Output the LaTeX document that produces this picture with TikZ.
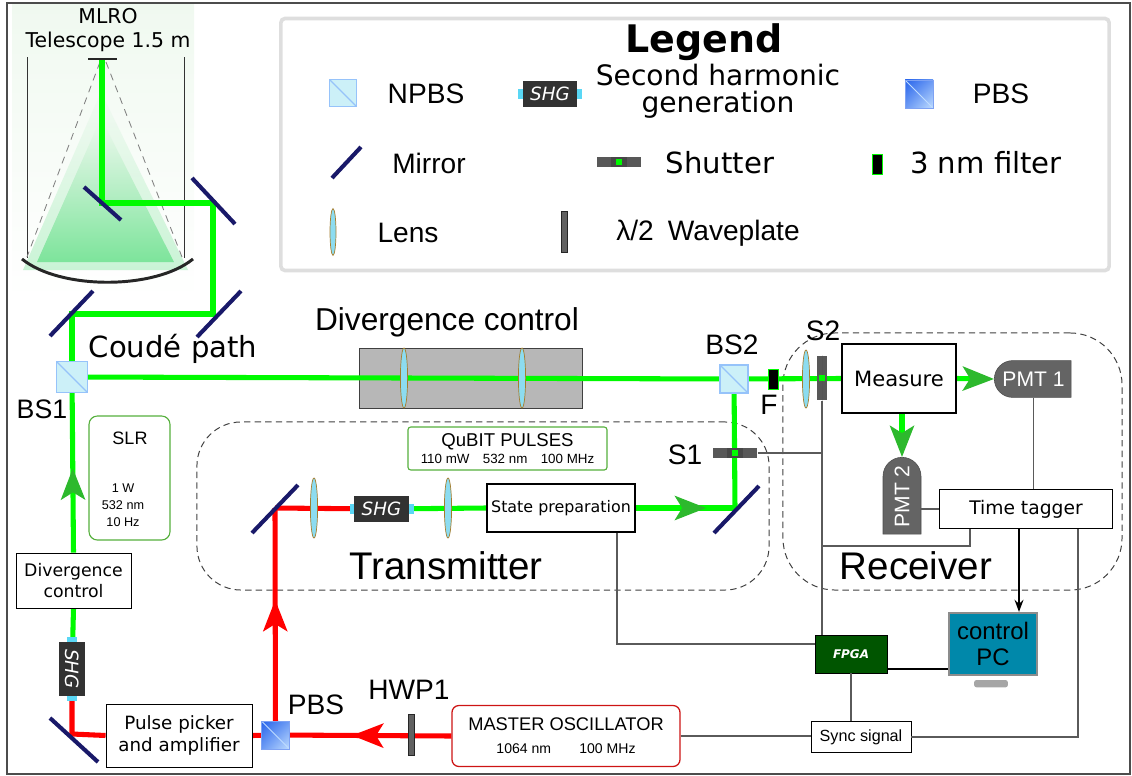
\documentclass[tikz,border=0pt]{standalone}
\usepackage{fontspec}
\setmainfont{Liberation Sans}
\newfontfamily\dvs{DejaVu Sans}
\usetikzlibrary{arrows.meta,positioning,shapes.geometric,shapes.misc,shadings,decorations.markings}

\definecolor{laser}{RGB}{0,250,0}
\definecolor{pump}{RGB}{255,0,0}
\definecolor{mirnavy}{RGB}{25,25,105}
\definecolor{npbsfill}{RGB}{204,240,248}
\definecolor{npbsedge}{RGB}{150,195,250}
\definecolor{pbsdark}{RGB}{40,100,235}
\definecolor{pbslight}{RGB}{190,220,255}
\definecolor{shgdark}{RGB}{50,50,50}
\definecolor{earcyan}{RGB}{90,215,245}
\definecolor{shutgray}{RGB}{88,88,88}
\definecolor{lensfill}{RGB}{140,220,240}
\definecolor{lensedge}{RGB}{165,125,45}
\definecolor{divgray}{RGB}{183,183,183}
\definecolor{pmtgray}{RGB}{100,100,100}
\definecolor{fpgagreen}{RGB}{0,85,0}
\definecolor{pcteal}{RGB}{0,136,170}
\definecolor{boxgreen}{RGB}{85,175,60}
\definecolor{oscred}{RGB}{205,20,20}
\definecolor{headgreen}{RGB}{45,185,45}
\definecolor{wiregray}{RGB}{90,90,90}
\definecolor{conegreen}{RGB}{125,228,155}
\definecolor{telbg}{RGB}{240,249,240}

\pgfdeclarelayer{back}
\pgfdeclarelayer{beams}
\pgfsetlayers{back,beams,main}

\newcommand\fsz[1]{\fontsize{#1}{\fpeval{1.18*#1}}\selectfont}

\tikzset{
  beamg/.style={draw=laser, line width=3.6pt},
  beamr/.style={draw=pump, line width=3.6pt},
  mirr/.style={draw=mirnavy, line width=2.9pt},
  tele/.style={draw=black!85, line width=2.1pt},
  wire/.style={draw=wiregray, line width=0.9pt},
  ctl/.style={draw=black, line width=1.5pt},
  gend/.style={-{Stealth[length=0.78cm,width=0.6cm,inset=0.18cm,color=headgreen]}},
  gmid/.style={postaction={decorate, decoration={markings,
      mark=at position #1 with {\arrow{Stealth[length=0.78cm,width=0.6cm,inset=0.18cm,color=headgreen]}}}}},
  rmid/.style={postaction={decorate, decoration={markings,
      mark=at position #1 with {\arrow{Stealth[length=0.78cm,width=0.6cm,inset=0.18cm,color=pump]}}}}},
  tag/.style={inner sep=0, font=\fsz{20}},
  blk/.style={rectangle, draw=black, line width=0.9pt, fill=white, inner sep=1pt, align=center},
  npbs/.style={rectangle, draw=npbsedge, fill=npbsfill, line width=0.8pt, minimum size=0.68cm, inner sep=0,
    path picture={\draw[npbsedge, line width=0.8pt] (path picture bounding box.north west) -- (path picture bounding box.south east);}},
  pbs/.style={rectangle, draw=pbsdark!60, line width=0.6pt, minimum size=0.7cm, inner sep=0,
    upper left=pbsdark, upper right=pbsdark!55!pbslight, lower left=pbsdark!55!pbslight, lower right=pbslight,
    path picture={\draw[pbslight] (path picture bounding box.north west) -- (path picture bounding box.south east);}},
  lens/.style={ellipse, draw=lensedge, fill=lensfill, line width=0.5pt, minimum width=0.18cm, minimum height=1.5cm, inner sep=0},
  shutter/.style={rectangle, fill=shutgray, minimum width=1.12cm, minimum height=0.23cm, inner sep=0,
    path picture={
      \fill[black!72] ([xshift=-0.19cm]path picture bounding box.south) rectangle ([xshift=0.19cm]path picture bounding box.north);
      \fill[laser] ([xshift=-0.075cm,yshift=-0.08cm]path picture bounding box.center) rectangle ([xshift=0.075cm,yshift=0.08cm]path picture bounding box.center);}},
  filt/.style={rectangle, fill=black, draw=laser, line width=0.6pt, minimum width=0.25cm, minimum height=0.5cm, inner sep=0},
  wplate/.style={rectangle, fill=black!62, draw=black!85, line width=0.5pt, minimum width=0.14cm, minimum height=1.02cm, inner sep=0},
  pmt/.style={rounded rectangle, fill=pmtgray, draw=black!70, line width=0.4pt, text=white,
    minimum width=1.92cm, minimum height=0.92cm, inner sep=0, font=\fsz{15}},
  zone/.style={rectangle, draw=black!75, dash pattern=on 4.5pt off 3pt, line width=0.7pt},
  shgblk/.pic={
    \fill[earcyan] (-32,-5) rectangle (32,5);
    \node[fill=shgdark, text=white, minimum width=1.35cm, minimum height=0.65cm, inner sep=0,
          font=\dvs\itshape\fsz{13}, transform shape] (-box) {SHG};
  },
}

\begin{document}
\begin{tikzpicture}[x=0.025cm, y=-0.025cm]
  \useasboundingbox (0,0) rectangle (1132,776);
  \draw[black!70, line width=0.8pt] (7,3) rectangle (1130,774);

  % ---- telescope and coude train
  \begin{pgfonlayer}{back}
    \shade[top color=telbg, bottom color=white] (12,4) rectangle (194,300);
    \shade[top color=telbg, bottom color=conegreen, opacity=0.4] (101,92) -- (188,270) -- (23,270) -- cycle;
    \shade[top color=telbg, bottom color=conegreen] (101,118) -- (174,262) -- (37,262) -- cycle;
    \draw[black!80, line width=0.6pt] (27,57) -- (27,258) (184,57) -- (184,258);
    \draw[black!50, line width=0.6pt, dash pattern=on 5pt off 4pt] (100,62) -- (27,257) (106,62) -- (182,257);
  \end{pgfonlayer}
  \draw[tele] (22,259) .. controls (60,290) and (155,290) .. (193,259);
  \draw[tele] (88,59) -- (117,59);
  \node[font=\dvs\fontsize{14.5}{16.5}\selectfont, align=center, inner sep=0] (mlro) at (108,30) {MLRO\\Telescope 1.5 m};

  \coordinate (sec) at (102,59);
  \coordinate (m1) at (102,203);
  \coordinate (m2) at (213,203);
  \coordinate (m3) at (213,314);
  \coordinate (m4) at (72,314);
  \coordinate (m5) at (72,734);
  \coordinate (m6) at (275,508);
  \coordinate (m7) at (735,508);
  \draw[mirr] (m1) ++(-18,-16) -- ++(37,33);
  \draw[mirr] (m2) ++(-21,-25) -- ++(43,46);
  \draw[mirr] (m3) ++(-16,23) -- ++(44,-46);
  \draw[mirr] (m4) ++(-22,22) -- ++(43,-45);
  \draw[mirr] (m5) ++(-22,-16) -- ++(48,44);
  \draw[mirr] (m6) ++(-23,25) -- ++(46,-48);
  \draw[mirr] (m7) ++(-21,25) -- ++(45,-47);

  % ---- legend
  \node[draw=black!13, line width=2.6pt, rounded corners=3pt, minimum width=20.7cm, minimum height=6.3cm] (legend) at (695,144.5) {};
  \node[font=\dvs\bfseries\fsz{27}, inner sep=0] (legtitle) at (704,42) {Legend};
  \node[npbs] (npbsL) at (343,93) {};
  \node[tag] (npbsT) at (426,94) {NPBS};
  \pic (shgA) at (550,94) {shgblk};
  \node[tag, font=\dvs\fontsize{20}{19}\selectfont, align=center] (shgT) at (718,91) {Second harmonic\\generation};
  \node[pbs] (pbsL) at (919,94) {};
  \node[tag] (pbsT) at (1001,94) {PBS};
  \coordinate (mirL) at (346,162);
  \draw[mirr] (mirL) ++(-14,16) -- ++(29,-31);
  \node[tag] (mirT) at (429,163) {Mirror};
  \node[shutter] (shutL) at (619,162) {};
  \node[tag, font=\dvs\fsz{20.7}] (shutT) at (720,163) {Shutter};
  \node[filt] (filtL) at (877,164) {};
  \node[tag, font=\dvs\fsz{20.7}] (filtT) at (986,163) {3 nm filter};
  \node[lens, minimum height=1.17cm, minimum width=0.15cm] (lensL) at (333,232) {};
  \node[tag] (lensT) at (408,233) {Lens};
  \node[wplate] (wpL) at (564.5,232) {};
  \node[tag] (wpT) at (708,233) {λ/2\enspace Waveplate};

  % ---- launch and return path
  \node[npbs, minimum size=0.78cm] (bs1) at (72,377) {};
  \node[tag, font=\fsz{19}] (bs1T) at (42,409) {BS1};
  \node[tag, font=\dvs\fsz{20.7}] (coude) at (173,349) {Coudé path};
  \begin{pgfonlayer}{back}
    \node[fill=divgray, draw=black!75, line width=0.6pt, minimum width=5.575cm, minimum height=1.5cm] (divC) at (470.5,378) {};
    \node[zone, rounded corners=1.1cm, minimum width=14.3cm, minimum height=4.2cm] (txZone) at (483,506) {};
    \node[zone, rounded corners=1.3cm, minimum width=8.475cm, minimum height=6.425cm] (rxZone) at (952.5,461.5) {};
  \end{pgfonlayer}
  \node[tag, font=\fsz{22.5}] (divCT) at (447,322) {Divergence control};
  \node[lens] (lensA) at (404,378) {};
  \node[lens] (lensB) at (522,378) {};
  \node[npbs, minimum size=0.7cm] (bs2) at (734,379) {};
  \node[tag] (bs2T) at (732,345) {BS2};
  \node[filt] (filtF) at (773,379) {};
  \node[tag] (fT) at (769,405) {F};

  \node[rounded corners=6pt, draw=boxgreen, line width=0.8pt, minimum width=2.025cm, minimum height=3.1cm] (slr) at (129.5,478) {};
  \node[tag, font=\fsz{12.8}] (slrT) at (130,438) {SLR};
  \node[tag, font=\fontsize{9}{12}\selectfont, align=center] (slrD) at (123,505) {1 W\\532 nm\\10 Hz};
  \node[blk, line width=0.6pt, minimum width=2.875cm, minimum height=1.375cm, font=\dvs\fontsize{12.3}{14.5}\selectfont] (divL) at (73.5,580.5) {Divergence\\control};
  \pic[rotate=-90] (shgC) at (72,669) {shgblk};
  \node[blk, line width=0.6pt, minimum width=3.65cm, minimum height=1.575cm, font=\dvs\fontsize{13}{16}\selectfont] (picker) at (179,735.5) {Pulse picker\\and amplifier};
  \node[pbs] (pbs) at (275.5,735) {};
  \node[tag] (pbsT2) at (316,705) {PBS};
  \node[wplate] (hwp) at (411.5,735) {};
  \node[tag] (hwpT) at (409,690) {HWP1};
  \node[draw=oscred, line width=0.9pt, rounded corners=5pt, minimum width=5.7cm, minimum height=1.525cm, align=center, inner sep=0, font=\fsz{13}] (mo) at (566,736) {MASTER OSCILLATOR\\[1pt]{\fsz{10}1064 nm\qquad 100 MHz}};

  % ---- transmitter
  \node[tag, font=\fsz{27.4}] (txT) at (446,566) {Transmitter};
  \node[lens] (lensT1) at (314,508) {};
  \pic (shgB) at (381.5,509) {shgblk};
  \node[lens] (lensT2) at (448,508) {};
  \node[blk, minimum width=3.7cm, minimum height=1.2cm, font=\dvs\fsz{11.3}] (prep) at (561,508) {State preparation};
  \node[shutter] (s1) at (735,453) {};
  \node[tag] (s1T) at (685,455) {S1};
  \node[draw=boxgreen, line width=0.8pt, rounded corners=2pt, minimum width=4.975cm, minimum height=1.075cm, align=center, inner sep=0, font=\fsz{13.2}] (qubit) at (507.5,448.5) {QuBIT PULSES\\[-3pt]{\fsz{9.5}110 mW\quad 532 nm\quad 100 MHz}};

  % ---- receiver
  \node[lens, minimum height=1.45cm] (lensR) at (806,379) {};
  \node[shutter, rotate=90] (s2) at (822,378) {};
  \node[tag] (s2T) at (823,331) {S2};
  \node[blk, minimum width=2.85cm, minimum height=1.725cm, font=\dvs\fsz{15}] (measure) at (899,378.5) {Measure};
  \node[pmt, rounded rectangle right arc=none] (pmt1) at (1033.5,379) {PMT 1};
  \node[pmt, rounded rectangle left arc=none, rotate=90, minimum height=0.95cm] (pmt2) at (902,496.5) {PMT 2};
  \node[blk, line width=0.7pt, minimum width=4.3cm, minimum height=0.975cm, font=\dvs\fsz{13.3}] (tagger) at (1026,509) {Time tagger};
  \node[tag, font=\fsz{27.4}] (rxT) at (916,566) {Receiver};

  % ---- electronics
  \node[fill=fpgagreen, draw=black, line width=0.5pt, minimum width=1.8cm, minimum height=0.95cm, text=white, font=\dvs\bfseries\itshape\fsz{8.5}] (fpga) at (851,654) {FPGA};
  \node[fill=pcteal, draw=black!45, line width=1.5pt, minimum width=2.2cm, minimum height=1.55cm, align=center, inner sep=0, font=\fontsize{17}{18.5}\selectfont] (pc) at (993,644) {control\\PC};
  \fill[black!35, rounded corners=1.5pt] ([xshift=-0.47cm,yshift=-0.1cm]pc.south) rectangle ([xshift=0.37cm,yshift=-0.28cm]pc.south);
  \node[blk, line width=0.6pt, minimum width=2.5cm, minimum height=0.775cm, font=\fsz{11.5}] (sync) at (861,737) {Sync signal};

  % ---- beams
  \begin{pgfonlayer}{beams}
    \draw[beamg] (sec) -- (m1) -- (m2) -- (m3) -- (m4) -- (bs1.center);
    \draw[beamg, gmid=0.48] (divL.north) -- (bs1.center);
    \draw[beamg] (bs1.center) -- (bs2.center) -- (measure.west);
    \draw[beamg] (shgC-box.center) -- (divL.south);
    \draw[beamg] (bs2.center) -- (m7);
    \draw[beamg, gmid=0.71] (prep.east) -- (m7);
    \draw[beamg] (shgB-box.center) -- (prep.west);
    \draw[beamg, gend] (measure.east) -- (pmt1.west);
    \draw[beamg, gend] (measure.south -| pmt2.east) -- (pmt2.east);
    \draw[beamr] (shgC-box.center) -- (m5) -- (picker.west);
    \draw[beamr] (picker.east) -- (pbs.center);
    \draw[beamr, rmid=0.565] (mo.west) -- (pbs.center);
    \draw[beamr, rmid=0.595] (pbs.center) -- (m6);
    \draw[beamr] (m6) -- (shgB-box.center);
  \end{pgfonlayer}

  % ---- signal wiring
  \coordinate (j1) at (822,546);
  \coordinate (tt) at ([xshift=-0.175cm]tagger.south);
  \coordinate (fp) at ([yshift=-0.375cm]fpga.east);
  \draw[wire] (s2.west) -- (s2.west |- fpga.north);
  \draw[wire] (s1.east) -- (s1.east -| s2.west);
  \draw[wire] ([xshift=-1.4cm]tagger.south) |- (j1);
  \draw[wire] (tagger.west -| pmt2.south) -- (tagger.west);
  \draw[wire] (pmt1.south) -- (pmt1.south |- tagger.north);
  \draw[ctl, -{Stealth[length=0.3cm,width=0.22cm]}] (tt) -- (tt |- pc.north);
  \draw[wire] ([xshift=1.3cm]tagger.south) |- (sync.east);
  \draw[ctl] (fp) -- (fp -| pc.west);
  \draw[wire] (fpga.south) -- (fpga.south |- sync.north);
  \draw[wire] (mo.east) -- (mo.east -| sync.west);
  \draw[wire] ([xshift=1.4cm]prep.south) |- ([yshift=0.25cm]fpga.west);
\end{tikzpicture}
\end{document}
